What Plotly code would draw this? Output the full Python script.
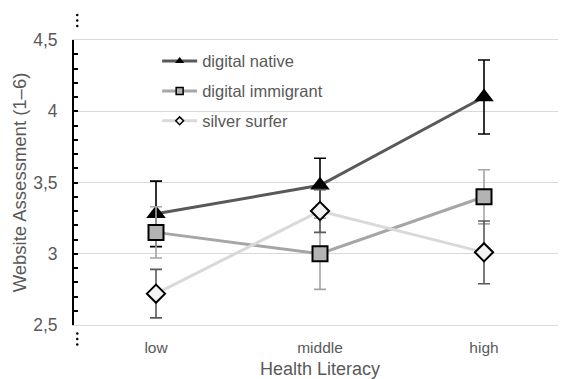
import plotly.graph_objects as go

categories = ["low", "middle", "high"]
series_names = ["digital native", "digital immigrant", "silver surfer"]
native = [3.28, 3.48, 4.10]
native_err = [0.23, 0.19, 0.26]
immigrant = [3.15, 3.00, 3.40]
immigrant_err = [0.18, 0.25, 0.19]
silver = [2.72, 3.30, 3.01]
silver_err = [0.17, 0.15, 0.22]

FONT = "Liberation Sans, Arial, sans-serif"
TXT = "#595959"

styles = [
    dict(line="#595959", symbol="triangle-up", size=17, fill="#000000", lw=0, err="#000000", lsize=8),
    dict(line="#a6a6a6", symbol="square", size=15, fill="#b3b3b3", lw=2, err="#a6a6a6", lsize=7),
    dict(line="#d9d9d9", symbol="diamond", size=14, fill="#f2f2f2", lw=2, err="#595959", lsize=6),
]
values = [native, immigrant, silver]
errors = [native_err, immigrant_err, silver_err]

fig = go.Figure()
for name, vals, errs, st in zip(series_names, values, errors, styles):
    fig.add_trace(go.Scatter(
        x=categories, y=vals, mode="lines+markers", name=name, showlegend=False,
        line=dict(color=st["line"], width=3),
        marker=dict(symbol=st["symbol"], size=st["size"], color=st["fill"],
                    line=dict(color="#000000", width=st["lw"])),
        error_y=dict(type="data", array=errs, visible=True, color=st["err"],
                     thickness=1.6, width=6),
    ))
for i, (name, st) in enumerate(zip(series_names, styles)):
    fig.add_trace(go.Scatter(
        x=[None], y=[None], mode="lines+markers", name=name, legendgroup=f"g{i}",
        line=dict(color=st["line"], width=3),
        marker=dict(symbol=st["symbol"], size=st["lsize"], color=st["fill"],
                    line=dict(color="#000000", width=1.5 if st["lw"] else 0)),
    ))

# axis-break dots
shapes = []
for yoff in (15, 20.5, 26):
    shapes.append(dict(type="circle", xref="paper", yref="paper", xsizemode="pixel", ysizemode="pixel",
                       xanchor=0, yanchor=1, x0=2, x1=4.5, y0=40 - yoff - 1.2, y1=40 - yoff + 1.2,
                       fillcolor="#000000", line=dict(width=0)))
for yoff in (8.5, 14, 19.5):
    shapes.append(dict(type="circle", xref="paper", yref="paper", xsizemode="pixel", ysizemode="pixel",
                       xanchor=0, yanchor=0, x0=2, x1=4.5, y0=-yoff - 1.2, y1=-yoff + 1.2,
                       fillcolor="#000000", line=dict(width=0)))

# page body has an 8px default margin, so the figure is sized/positioned to compensate
fig.update_layout(
    width=558, height=371,
    margin=dict(l=66, r=0, t=32, b=54, autoexpand=False),
    paper_bgcolor="white", plot_bgcolor="white",
    separators=", ",
    font=dict(family=FONT, size=15, color=TXT),
    shapes=shapes,
    legend=dict(x=0.169, y=0.987, xanchor="left", yanchor="top", bgcolor="rgba(0,0,0,0)",
                font=dict(family=FONT, size=16.5, color=TXT), tracegroupgap=5.5,
                itemwidth=35, traceorder="grouped"),
    xaxis=dict(type="category", range=[-0.5, 2.5], showgrid=False, ticks="", automargin=False,
               showline=True, mirror=True, linecolor="#d9d9d9", linewidth=1,
               ticklabelstandoff=8, tickfont=dict(size=15.5, color=TXT),
               title=dict(text="Health Literacy", font=dict(size=18, color=TXT), standoff=8)),
    yaxis=dict(range=[2.5, 4.5], dtick=0.5, showgrid=True, gridcolor="#d9d9d9", gridwidth=1,
               showline=True, linecolor="#000000", linewidth=2, automargin=False,
               ticks="inside", ticklen=4, tickwidth=1.5, tickcolor="#000000",
               minor=dict(dtick=0.1, ticks="inside", ticklen=4, tickwidth=1.5, tickcolor="#000000", showgrid=False),
               ticklabelstandoff=11, tickfont=dict(size=17.5, color=TXT), zeroline=False,
               title=dict(text="Website Assessment (1–6)", font=dict(size=18.5, color=TXT), standoff=2)),
)

fig.write_html("out.html")
